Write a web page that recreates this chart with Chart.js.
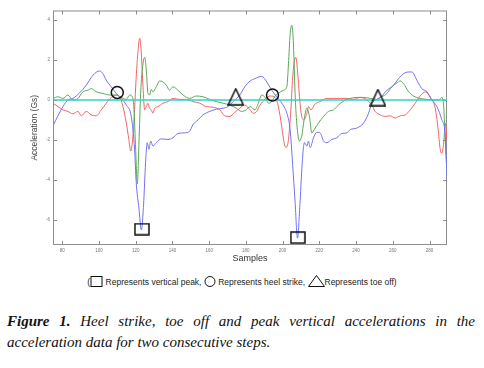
<!DOCTYPE html>
<html>
<head>
<meta charset="utf-8">
<script src="https://cdn.jsdelivr.net/npm/chart.js@4.4.1/dist/chart.umd.min.js"></script>
<style>
    html, body { margin: 0; padding: 0; background: #fff; }
    body { width: 484px; height: 368px; position: relative; overflow: hidden; }
    #chartBox { position: absolute; left: 0; top: 0; width: 484px; height: 268px; }
    #legendLine { position: absolute; left: 0; top: 275px; width: 484px; text-align: center;
        font-family: "Liberation Sans", Arial, sans-serif; font-size: 8.5px; color: #222; white-space: nowrap; }
    #legendLine svg { vertical-align: -2px; }
    #caption { position: absolute; left: 7px; top: 311px; width: 468px;
        font-family: "Liberation Serif", "DejaVu Serif", serif; font-style: italic; font-size: 15px;
        line-height: 21px; color: #111; text-align: justify; text-align-last: left; }
    #caption b { font-weight: bold; }
</style>
</head>
<body>
<div id="chartBox"><canvas id="accChart" width="484" height="268"></canvas></div>
<div id="legendLine">(<svg width="13" height="11"><rect x="1" y="0.5" width="11" height="10" fill="none" stroke="#111" stroke-width="1"/></svg> Represents vertical peak, <svg width="12" height="11"><circle cx="6" cy="5.5" r="5" fill="none" stroke="#111" stroke-width="1"/></svg> Represents heel strike, <svg width="17" height="12"><polygon points="8.5,0.5 16.5,11.5 0.5,11.5" fill="none" stroke="#111" stroke-width="1"/></svg>Represents toe off)</div>
<div id="caption"><b>Figure 1.</b> Heel strike, toe off and peak vertical accelerations in the acceleration data for two consecutive steps.</div>
<script>
    // axis ticks
    const xTicks = [80, 100, 120, 140, 160, 180, 200, 220, 240, 260, 280];
    const yTicks = [4, 2, 0, -2, -4, -6];
    const xMin = 75, xMax = 289.5;
    const yMin = -7.24, yMax = 4.47;

    // blue trace
    const blueX = [75, 80.4, 83.1, 85.8, 89.5, 93.1, 96.7, 100.4, 102.2, 104, 106.7, 109.4, 112.2, 114.9, 117.6, 119.4, 120.3, 121.8, 123.1, 124.3, 125.4, 126.3, 127.2, 128.2, 129.4, 131.2, 134, 137.6, 140.3, 143, 146.7, 149.4, 151.2, 154, 156.7, 160.3, 164, 167.6, 170.3, 173, 176.7, 179.4,
        182.3, 185, 188.6, 191.4, 194.1, 196.8, 199.6, 202.3, 204.1, 205.5, 206.8, 208.1, 209.5, 210.8, 211.9, 213.2, 214.1, 215, 216.8, 218.6, 220.4, 222.3, 224.1, 226.8, 229.5, 232.2, 235, 236.8, 240.4, 244.1, 246.8, 248.6, 251.3, 254, 256.8, 260.4, 263.1, 265.8, 268.6, 270.4, 273.1, 275.8, 278.6, 281.3, 284, 286.7, 288.6, 289.5];
    const blueY = [-1.28, -0.33, 0, 0.08, 0.36, 0.74, 1.23, 1.45, 1.31, 0.99, 0.66, 0.33, 0.08, -0.25, -0.82, -2.46, -4.11, -5.42, -6.49, -5.25, -3.12, -2.13, -2.46, -2.05, -2.3, -2.13, -1.94, -1.97, -1.89, -1.67, -1.64, -1.56, -1.23, -0.99, -0.74, -0.57, -0.46, -0.41, -0.33, -0.08, 0.25, 0.66,
        0.95, 1.07, 1.18, 0.9, 0.49, 0.16, -0.16, -0.66, -1.48, -3.28, -5.09, -6.9, -5.09, -2.96, -2.13, -2.3, -2.05, -2.38, -1.89, -1.61, -1.64, -2.05, -2.13, -1.97, -1.89, -1.67, -1.64, -1.48, -1.4, -1.15, -0.66, -0.16, 0.03, 0.2, 0.49, 0.74, 1.07, 1.31, 1.4, 1.4, 0.99, 0.57, 0.41, 0, -0.33, -0.99, -1.81, -3.94];

    // red trace
    const redX = [75, 77.7, 80.4, 83.1, 85.8, 88.6, 90.4, 93.1, 95.8, 98.5, 101.3, 104, 106.7, 109.4, 111.3, 113.1, 114.9, 116.3, 117.3, 118.5, 119.4, 120.3, 121.3, 122.2, 123.1, 124, 124.9, 125.8, 126.7, 127.6, 128.5, 129.4, 130.3, 132.2, 134.9, 137.6, 140.3, 144, 147.6, 151.2, 154.9, 158.5, 162.1, 165.8, 168.5, 171.2, 173.9, 176.7, 179.4,
        182.3, 184.1, 185.9, 187.7, 190.5, 193.2, 195.9, 197.7, 199.5, 200.8, 201.9, 203.2, 204.5, 205.5, 206.5, 207.2, 208.1, 209.2, 210.4, 211.7, 213.2, 214.1, 215.4, 217.7, 220.4, 224.1, 227.7, 231.3, 235, 238.6, 242.2, 245.9, 248.6, 250.4, 253.1, 255.9, 258.6, 261.3, 264, 266.8, 269.5, 272.2, 274.9, 277.7, 280.4, 283.1, 284.6, 285.8, 286.7, 287.7, 288.6, 289.5];
    const redY = [-0.16, -0.33, -0.49, -0.57, -0.69, -0.57, -0.79, -0.57, -0.74, -0.79, -0.49, -0.16, 0.13, 0.25, 0.16, -0.33, -1.15, -1.97, -2.55, -1.81, -0.49, 1.15, 2.46, 3.09, 2.3, 0.66, -0.49, -0.33, -0.16, -0.41, -0.49, -0.66, -0.41, -0.33, -0.16, -0.08, 0.08, 0.03, 0.03, -0.08, -0.16, -0.33, -0.36, -0.49, -0.79, -0.82, -0.62, -0.41, -0.25,
        -0.49, -0.66, -0.57, -0.25, 0.03, 0.2, 0.13, -0.33, -1.31, -2.13, -2.38, -1.97, -0.49, 1.15, 1.97, 2.13, 1.48, 0.16, -0.82, -0.99, -0.66, -0.33, -0.49, -0.2, -0.08, 0.08, 0.08, 0.08, 0.08, 0.03, 0.13, 0, -0.25, -0.57, -0.74, -0.82, -0.79, -0.9, -0.79, -0.74, -0.49, -0.16, 0.2, 0.41, 0.13, -0.41, -1.4, -2.46, -2.66, -2.13, -1.15, -1.97];

    // green trace
    const greenX = [75, 77.7, 80.4, 83.1, 85.8, 88.6, 91.3, 94, 95.8, 98.5, 102.2, 105.8, 109.4, 112.2, 114.9, 116.7, 118.2, 119.1, 120, 120.9, 121.8, 122.7, 124, 124.9, 125.8, 126.7, 127.6, 128.5, 129.4, 131.2, 133.1, 134.9, 136.7, 138.5, 140.3, 143, 145.8, 149.4, 153, 156.7, 160.3, 164, 167.6, 171.2, 174.8, 177.6, 180.3,
        182.3, 185, 186.8, 188.6, 190.5, 192.3, 194.1, 195.9, 197.7, 200.5, 202.3, 203.2, 204.1, 205, 205.9, 206.8, 207.7, 209.2, 210.4, 211.7, 213.2, 214.6, 215.9, 217.7, 219.5, 222.3, 225, 227.7, 230.4, 234.1, 236.8, 240.4, 244.1, 247.7, 251.3, 254, 256.8, 259.5, 262.2, 264, 265.8, 268.6, 271.3, 274.9, 278.6, 282.2, 284.9, 286.7, 287.7, 288.6, 289.5];
    const greenY = [0.08, 0.16, 0.08, 0.25, 0, 0.08, 0.41, 0.49, 0.57, 0.41, 0.33, 0.25, 0.25, 0.13, 0.03, 0.25, 0.16, -0.49, -2.46, -4.19, -2.13, 0.33, 1.81, 2.13, 1.48, 0.33, 0.25, 0.53, 0.41, 0.66, 0.95, 0.9, 0.74, 0.49, 0.66, 0.49, 0.25, 0.08, 0.2, 0.16, 0.03, -0.08, -0.16, -0.25, -0.41, -0.57, -0.49,
        -0.33, -0.49, -0.16, 0.25, 0.13, -0.16, -0.08, 0.2, 0.33, 0.49, 0.66, 1.81, 3.28, 3.74, 2.79, 0.33, -1.15, -2.05, -1.81, -0.99, -0.41, -0.82, -1.64, -1.4, -1.15, -0.82, -0.57, -0.49, -0.25, 0, 0.08, 0.13, 0.13, 0.08, 0.03, 0.16, 0.33, 0.66, 0.85, 0.95, 0.82, 0.41, 0.2, 0.08, 0.03, 0, 0, 0.13, -0.33, -2.13, -3.61];

    // zero reference line
    const zeroX = [xMin, xMax];
    const zeroY = [0, 0];

    // gait event markers
    const peakX = [123.4, 208.3], peakY = [-6.45, -6.87];
    const heelX = [110, 194.5], heelY = [0.38, 0.25];
    const toeX = [174.5, 251.9], toeY = [0.16, 0.12];

    function pts(xs, ys) { return xs.map((x, i) => ({ x: x, y: ys[i] })); }

    function trace(data, color, w) {
        return { data: data, borderColor: color, backgroundColor: color, borderWidth: w || 1, pointRadius: 0,
            pointStyle: false, fill: false, cubicInterpolationMode: 'monotone', showLine: true };
    }

    function marker(data, style, r) {
        return { data: data, showLine: false, pointStyle: style, pointRadius: r, pointHoverRadius: r,
            pointBorderColor: '#111', pointBackgroundColor: 'rgba(0,0,0,0)', pointBorderWidth: 1.5 };
    }

    // small canvases used as point styles (box is wider than tall, triangle a bit tall)
    function boxIcon() {
        const c = document.createElement('canvas');
        c.width = 16; c.height = 13;
        const g = c.getContext('2d');
        g.strokeStyle = '#111'; g.lineWidth = 1.5;
        g.strokeRect(1, 1, 14, 11);
        return c;
    }
    function triIcon() {
        const c = document.createElement('canvas');
        c.width = 17; c.height = 18;
        const g = c.getContext('2d');
        g.strokeStyle = '#111'; g.lineWidth = 1.5; g.lineJoin = 'miter';
        g.beginPath(); g.moveTo(8.5, 1); g.lineTo(16, 17); g.lineTo(1, 17); g.closePath(); g.stroke();
        return c;
    }

    // frame + inward tick marks on all four sides
    const framePlugin = {
        id: 'frame',
        beforeDatasetsDraw(chart) {
            const { ctx, chartArea: a, scales: { x, y } } = chart;
            ctx.save();
            ctx.strokeStyle = '#8e8e8e';
            ctx.lineWidth = 1;
            ctx.strokeRect(a.left + 0.5, a.top + 0.5, a.right - a.left - 1, a.bottom - a.top - 1);
            ctx.beginPath();
            xTicks.forEach(v => {
                const px = Math.round(x.getPixelForValue(v)) + 0.5;
                ctx.moveTo(px, a.bottom); ctx.lineTo(px, a.bottom - 4);
                ctx.moveTo(px, a.top); ctx.lineTo(px, a.top + 4);
            });
            yTicks.forEach(v => {
                const py = Math.round(y.getPixelForValue(v)) + 0.5;
                ctx.moveTo(a.left, py); ctx.lineTo(a.left + 4, py);
                ctx.moveTo(a.right, py); ctx.lineTo(a.right - 4, py);
            });
            ctx.stroke();
            ctx.restore();
        }
    };

    new Chart(document.getElementById('accChart'), {
        type: 'scatter',
        data: {
            datasets: [
                marker(pts(peakX, peakY), boxIcon(), 8),
                marker(pts(heelX, heelY), 'circle', 6),
                marker(pts(toeX, toeY), triIcon(), 9),
                trace(pts(zeroX, zeroY), '#2fd3c3', 1.3),
                trace(pts(blueX, blueY), '#7373f2'),
                trace(pts(greenX, greenY), '#5aa95a'),
                trace(pts(redX, redY), '#f26565')
            ]
        },
        options: {
            responsive: false,
            animation: false,
            layout: { padding: { top: 8, right: 37, left: 0, bottom: 0 } },
            plugins: { legend: { display: false }, tooltip: { enabled: false } },
            scales: {
                x: {
                    type: 'linear', min: xMin, max: xMax,
                    grid: { display: false, drawTicks: false }, border: { display: false },
                    afterBuildTicks: s => { s.ticks = xTicks.map(v => ({ value: v })); },
                    afterFit: s => { s.height = 23; },
                    ticks: { padding: 3, maxRotation: 0, autoSkip: false, color: '#777', font: { size: 4.5, family: 'Liberation Sans' } },
                    title: { display: true, text: 'Samples', color: '#333', padding: { top: 0, bottom: 4 },
                        font: { size: 9, family: 'Liberation Sans' } }
                },
                y: {
                    min: yMin, max: yMax,
                    grid: { display: false, drawTicks: false }, border: { display: false },
                    afterBuildTicks: s => { s.ticks = yTicks.map(v => ({ value: v })); },
                    afterFit: s => { s.width = 53; },
                    ticks: { padding: 3, color: '#777', font: { size: 4.5, family: 'Liberation Sans' } },
                    title: { display: true, text: 'Acceleration (Gs)', color: '#444', padding: { top: 30, bottom: 0 },
                        font: { size: 8.5, family: 'Liberation Sans' } }
                }
            }
        },
        plugins: [framePlugin]
    });
</script>
</body>
</html>
